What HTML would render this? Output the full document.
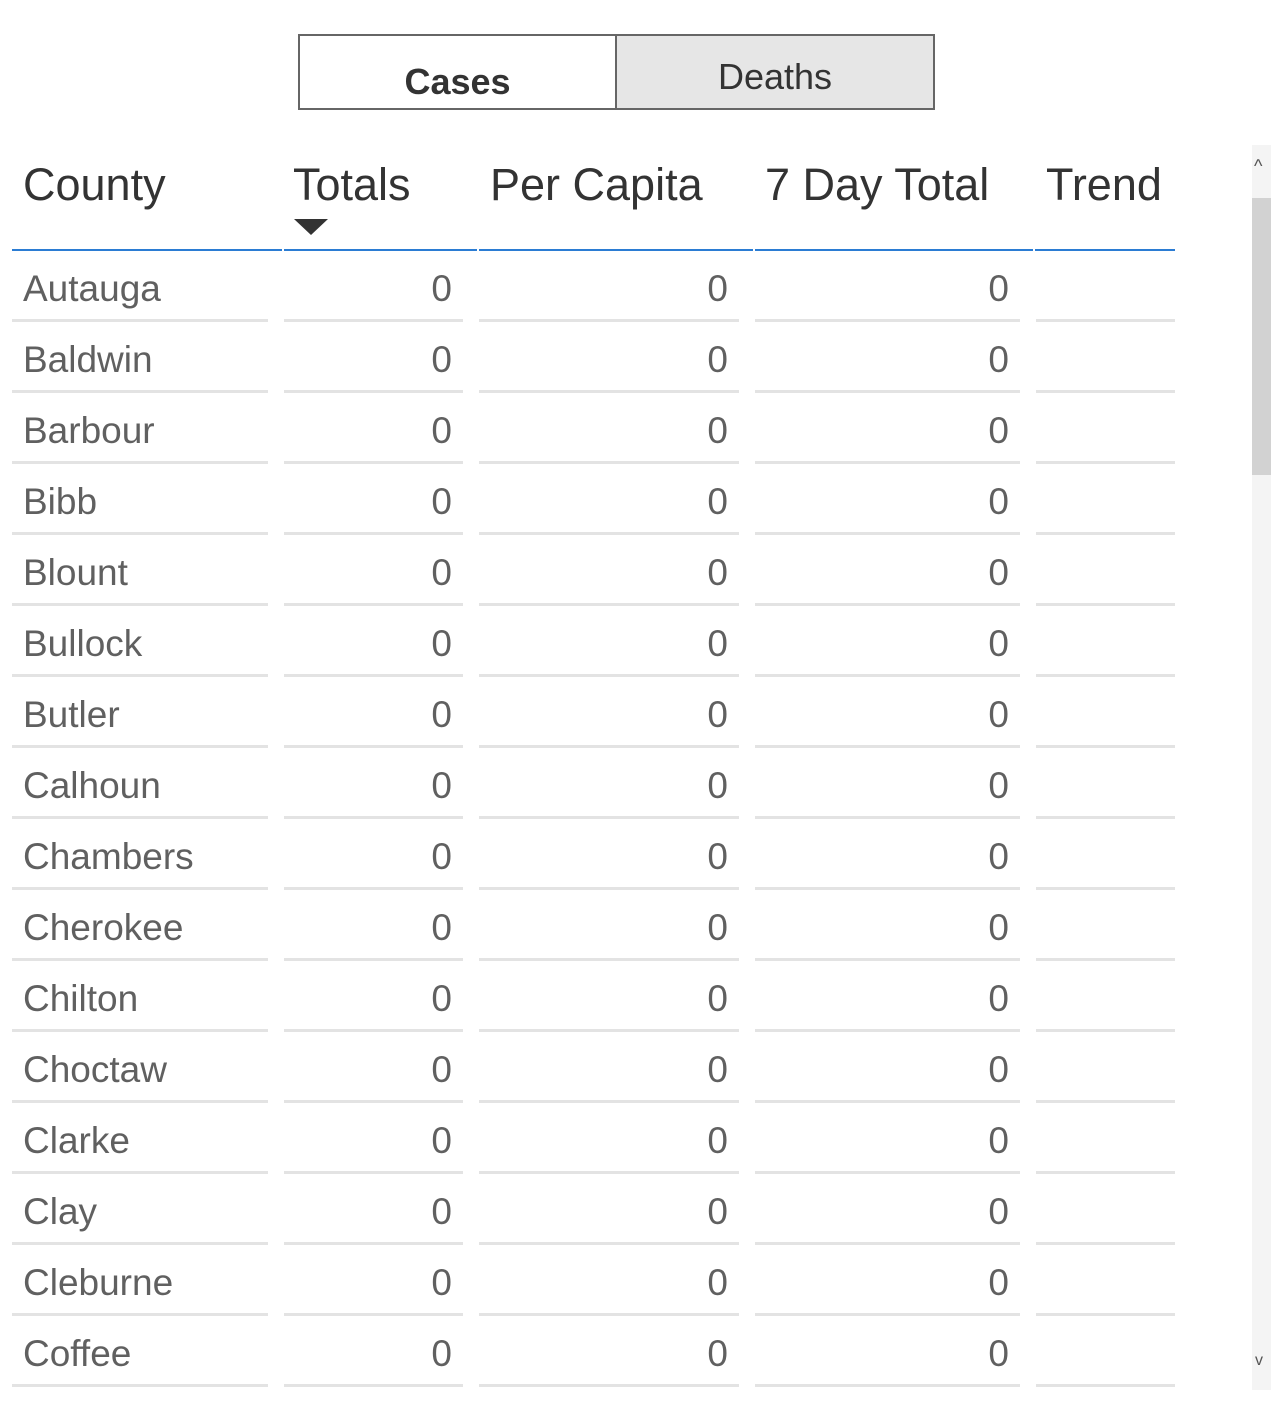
<!DOCTYPE html>
<html><head><meta charset="utf-8"><style>
body{margin:0;width:1280px;height:1418px;background:#fff;font-family:"Liberation Sans",sans-serif;position:relative;overflow:hidden}
.abs{position:absolute}
.btn{position:absolute;top:34px;height:76px;box-sizing:border-box;border:2px solid #666;text-align:center;color:#333;font-size:36px}
.hdr{position:absolute;top:159px;font-size:45px;color:#333;white-space:nowrap}
.hline{position:absolute;top:249px;height:2px;background:#2b7cd3}
.cell{position:absolute;height:71px;box-sizing:border-box;border-bottom:3px solid #e3e3e3;font-size:37px;color:#606060;line-height:76px;white-space:nowrap}
.num{text-align:right;padding-right:11px}
</style></head><body>
<div class="btn" style="left:298px;width:319px;font-weight:bold;line-height:92px;background:#fff">Cases</div>
<div class="btn" style="left:615px;width:320px;background:#e6e6e6;line-height:82px">Deaths</div>

<div class="hdr" style="left:23px">County</div>
<div class="hdr" style="left:293px">Totals</div>
<div class="hdr" style="left:490px">Per Capita</div>
<div class="hdr" style="left:765px">7 Day Total</div>
<div class="hdr" style="left:1046px">Trend</div>
<svg class="abs" style="left:294px;top:219px" width="34" height="17"><polygon points="0,0 34,0 17,16" fill="#333"/></svg>
<div class="hline" style="left:12px;width:270px"></div>
<div class="hline" style="left:284px;width:193px"></div>
<div class="hline" style="left:479px;width:274px"></div>
<div class="hline" style="left:755px;width:278px"></div>
<div class="hline" style="left:1035px;width:140px"></div>

<div id="rows"></div>

<div class="abs" style="left:1252px;top:145px;width:19px;height:1245px;background:#f4f4f4"></div>
<div class="abs" style="left:1252px;top:198px;width:19px;height:277px;background:#d2d2d2"></div>
<div class="abs" style="left:1254px;top:156px;font-size:18px;color:#555">^</div>
<div class="abs" style="left:1255px;top:1352px;font-size:16px;color:#555">v</div>

<script>
const counties=["Autauga","Baldwin","Barbour","Bibb","Blount","Bullock","Butler","Calhoun","Chambers","Cherokee","Chilton","Choctaw","Clarke","Clay","Cleburne","Coffee"];
const totals=[0,0,0,0,0,0,0,0,0,0,0,0,0,0,0,0];
const perCapita=[0,0,0,0,0,0,0,0,0,0,0,0,0,0,0,0];
const sevenDay=[0,0,0,0,0,0,0,0,0,0,0,0,0,0,0,0];
const cols=[{l:12,w:256,num:false},{l:284,w:179,num:true},{l:479,w:260,num:true},{l:755,w:265,num:true},{l:1036,w:139,num:true}];
const host=document.getElementById('rows');
counties.forEach((c,i)=>{
  const vals=[c,totals[i],perCapita[i],sevenDay[i],''];
  vals.forEach((v,j)=>{
    const d=document.createElement('div');
    d.className='cell'+(cols[j].num?' num':'');
    d.style.left=cols[j].l+'px';d.style.width=cols[j].w+'px';
    d.style.top=(251+i*71)+'px';
    if(!cols[j].num)d.style.paddingLeft='11px';
    d.textContent=v;
    
    
    host.appendChild(d);
  });
});
</script>
</body></html>
